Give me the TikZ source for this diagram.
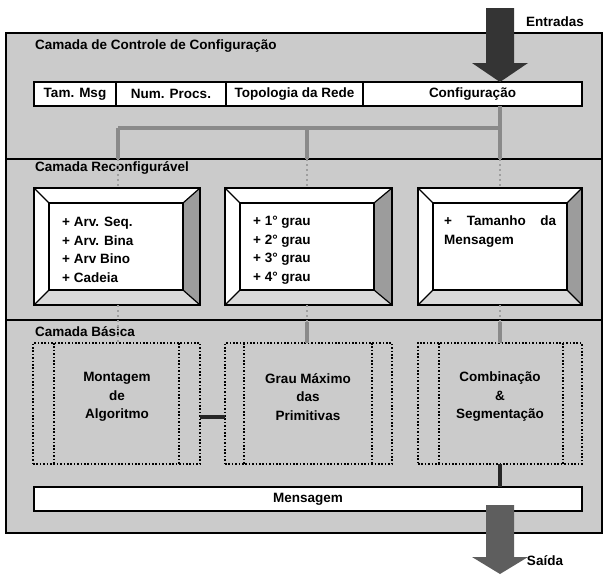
\documentclass[tikz,border=0pt]{standalone}
\usepackage{fontspec}
\setmainfont{Liberation Sans}
\usetikzlibrary{calc}
\definecolor{bg}{HTML}{CBCBCB}
\definecolor{bevR}{HTML}{9C9C9C}
\definecolor{bevB}{HTML}{DADADA}
\definecolor{gline}{HTML}{8A8A8A}
\definecolor{indark}{HTML}{343434}
\definecolor{outdark}{HTML}{5E5E5E}
\begin{document}
\begin{tikzpicture}[x=1pt,y=-1pt,
  txt/.style={font=\bfseries\fontsize{13.5}{18.5}\selectfont, inner sep=0pt},
  cell/.style={draw, fill=white, line width=1.2pt, minimum height=24pt, inner sep=0pt, outer sep=0pt, anchor=north west, txt},
  outerbox/.style={draw, line width=1.2pt, minimum height=117pt, inner sep=0pt, outer sep=0pt, anchor=north west},
  panel/.style={draw, fill=white, line width=1.2pt, minimum width=134pt, minimum height=87pt, inner sep=0pt, outer sep=0pt, anchor=north west},
  dotbox/.style={draw, line width=1.6pt, dash pattern=on 1.6pt off 1.8pt, minimum height=121pt, inner sep=0pt, outer sep=0pt, anchor=north west},
  dotline/.style={line width=1.6pt, dash pattern=on 1.6pt off 1.8pt},
  sepline/.style={line width=1.3pt},
  grayconn/.style={line width=3.2pt, gline},
  grayfaint/.style={line width=2.5pt, gline!70!bg, dash pattern=on 2pt off 3pt},
  darkconn/.style={line width=3.5pt, black!85},
  lbl/.style={txt, anchor=west}
]
\useasboundingbox (0,0) rectangle (605,574);

% outer frame
\node[draw, line width=1.3pt, fill=bg, minimum width=596pt, minimum height=500pt, inner sep=0pt, outer sep=0pt, anchor=north west] (frame) at (6,33) {};
\draw[sepline] (frame.west |- 0,159) -- (frame.east |- 0,159);
\draw[sepline] (frame.west |- 0,320) -- (frame.east |- 0,320);

% layer labels
\node[lbl] (L1) at (35,46) {Camada de Controle de Configuração};
\node[lbl] (L2) at (35,168) {Camada Reconfigurável};
\node[lbl] (L3) at (35,332) {Camada Básica};

% configuration row
\node[cell, minimum width=82pt]  (c1) at (34,82)  {Tam. Msg};
\node[cell, minimum width=110pt] (c2) at (116,82) {Num. Procs.};
\node[cell, minimum width=137pt] (c3) at (226,82) {Topologia da Rede};
\node[cell, minimum width=219pt] (c4) at (363,82) {Configuração};

% reconfigurable boxes
\node[outerbox, minimum width=166pt] (r1o) at (34,188) {};
\node[outerbox, minimum width=167pt] (r2o) at (225,188) {};
\node[outerbox, minimum width=164pt] (r3o) at (418,188) {};
\node[panel] (r1) at (49,203) {};
\node[panel] (r2) at (240,203) {};
\node[panel] (r3) at (433,203) {};

% texts in reconfigurable boxes
\node[txt, anchor=west, align=left] (t1) at (62,250) {+ Arv. Seq.\\+ Arv. Bina\\+ Arv Bino\\+ Cadeia};
\node[txt, anchor=west, align=left] (t2) at (253,250) {+ 1° grau\\+ 2° grau\\+ 3° grau\\+ 4° grau};
\node[txt, anchor=west, align=left] (t3) at (444,231.5) {\makebox[112pt][s]{+ Tamanho da}\\Mensagem};

% bevels
\foreach \o/\i in {r1o/r1, r2o/r2, r3o/r3}{
  \fill[white] (\o.north west) -- (\o.north east) -- (\i.north east) -- (\i.north west) -- cycle;
  \fill[white] (\o.north west) -- (\i.north west) -- (\i.south west) -- (\o.south west) -- cycle;
  \fill[bevR] (\o.north east) -- (\o.south east) -- (\i.south east) -- (\i.north east) -- cycle;
  \fill[bevB] (\o.south west) -- (\o.south east) -- (\i.south east) -- (\i.south west) -- cycle;
  \draw[line width=1.2pt] (\o.north west) rectangle (\o.south east);
  \draw[line width=1.2pt] (\i.north west) rectangle (\i.south east);
  \draw[line width=1.2pt] (\o.north west) -- (\i.north west)
                          (\o.north east) -- (\i.north east)
                          (\o.south west) -- (\i.south west)
                          (\o.south east) -- (\i.south east);
}

% basic layer dotted boxes
\node[dotbox, minimum width=167pt] (b1) at (33,343) {};
\node[dotbox, minimum width=167pt] (b2) at (225,343) {};
\node[dotbox, minimum width=164pt] (b3) at (418,343) {};
\foreach \b/\xa/\xb in {b1/54/179, b2/244/372, b3/439/563}{
  \draw[dotline] (\b.north -| \xa,0) -- (\b.south -| \xa,0);
  \draw[dotline] (\b.north -| \xb,0) -- (\b.south -| \xb,0);
}
\node[txt, align=center] (bt1) at (117,397) {Montagem\\de\\Algoritmo};
\node[txt, align=center] (bt2) at (308,397) {Grau Máximo\\das\\Primitivas};
\node[txt, align=center] (bt3) at (500,397) {Combinação\\\&\\Segmentação};

% message box
\node[cell, minimum width=548pt] (m) at (34,487) {Mensagem};

% gray connectors (configuration -> reconfigurable)
\coordinate (hL) at (118,128);
\coordinate (hM) at (307,128);
\coordinate (hR) at (500,128);
\draw[grayconn] (c4.south -| hR) -- (hR) -- (hL);
\draw[grayconn] (hL) -- (hL |- 0,159);
\draw[grayconn] (hM) -- (hM |- 0,159);
\draw[grayconn] (hR) -- (hR |- 0,159);
\draw[grayfaint] (hL |- 0,159) -- (hL |- r1o.north);
\draw[grayfaint] (hM |- 0,159) -- (hM |- r2o.north);
\draw[grayfaint] (hR |- 0,159) -- (hR |- r3o.north);

% gray connectors (reconfigurable -> basic)
\draw[grayfaint] (hL |- r1o.south) -- (hL |- b1.north);
\draw[grayfaint] (hM |- r2o.south) -- (hM |- 0,322);
\draw[grayfaint] (hR |- r3o.south) -- (hR |- 0,322);
\draw[grayconn] (hM |- 0,322) -- (hM |- b2.north);
\draw[grayconn] (hR |- 0,322) -- (hR |- b3.north);

% dark connectors
\draw[darkconn] (b1.east |- 0,417) -- (b2.west |- 0,417);
\draw[darkconn] (b3.south -| hR) -- (m.north -| hR);

% input arrow
\coordinate (intip) at (c4.north -| hR);
\fill[indark] (intip) -- ++(28,-19) -- ++(-14,0) -- ++(0,-55) -- ++(-28,0) -- ++(0,55) -- ++(-14,0) -- cycle;
\node[txt] (ent) at (555,22) {Entradas};

% output arrow
\coordinate (outtip) at (500,574);
\fill[outdark] (outtip) -- ++(28,-17) -- ++(-14,0) -- ++(0,-52) -- ++(-28,0) -- ++(0,52) -- ++(-14,0) -- cycle;
\node[txt] (sai) at (545,561) {Saída};
\end{tikzpicture}
\end{document}
